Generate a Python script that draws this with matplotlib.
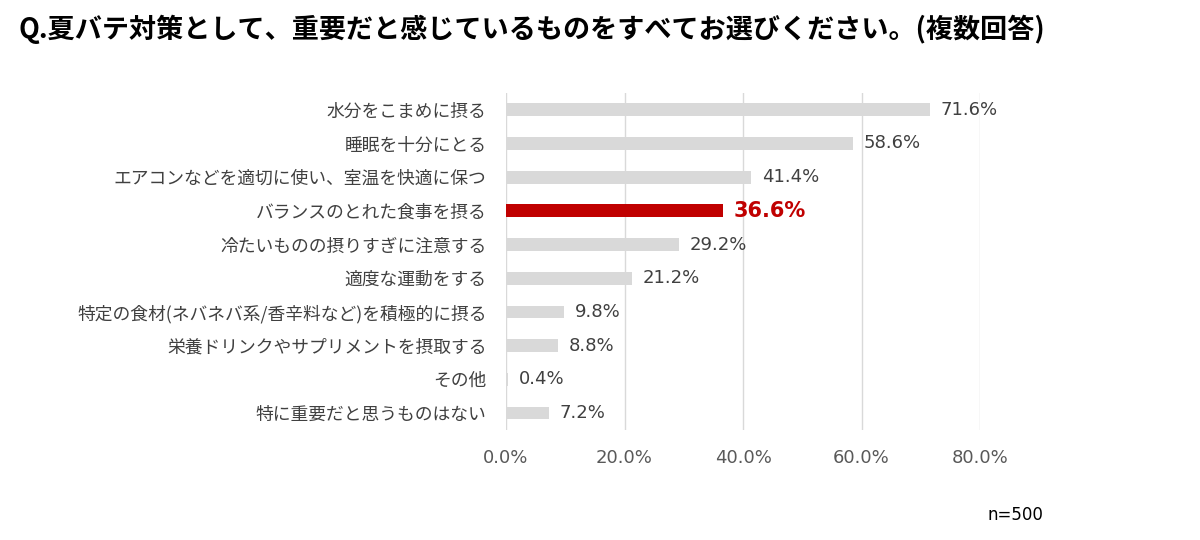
import matplotlib
matplotlib.use("Agg")
import matplotlib.pyplot as plt

plt.rcParams["font.family"] = "Noto Sans CJK JP"
NUM_FONT = "DejaVu Sans"

TITLE = "Q.夏バテ対策として、重要だと感じているものをすべてお選びください。(複数回答)"
categories = [
    "水分をこまめに摂る",
    "睡眠を十分にとる",
    "エアコンなどを適切に使い、室温を快適に保つ",
    "バランスのとれた食事を摂る",
    "冷たいものの摂りすぎに注意する",
    "適度な運動をする",
    "特定の食材(ネバネバ系/香辛料など)を積極的に摂る",
    "栄養ドリンクやサプリメントを摂取する",
    "その他",
    "特に重要だと思うものはない",
]
values = [71.6, 58.6, 41.4, 36.6, 29.2, 21.2, 9.8, 8.8, 0.4, 7.2]
highlight = 3
xticks = [0, 20, 40, 60, 80]

fig = plt.figure(figsize=(12, 5.4), dpi=100)
ax = fig.add_axes([0.4217, 0.204, 0.395, 0.624])

ypos = list(range(len(categories)))
colors = ["#c00000" if i == highlight else "#d9d9d9" for i in ypos]
ax.barh(ypos, values, height=0.38, color=colors, zorder=2)
for i, v in enumerate(values):
    if i == highlight:
        ax.text(v + 1.8, i, f"{v:.1f}%", va="center", ha="left", family=NUM_FONT,
                fontsize=15, color="#c00000", fontweight="bold", clip_on=False)
    else:
        ax.text(v + 1.8, i, f"{v:.1f}%", va="center", ha="left", family=NUM_FONT,
                fontsize=13, color="#404040", clip_on=False)

ax.set_xlim(0, 80)
ax.set_ylim(len(categories) - 0.5, -0.5)
ax.set_yticks(ypos)
ax.set_yticklabels(categories, fontsize=12.8, color="#404040")
ax.set_xticks(xticks)
ax.set_xticklabels([f"{t:.1f}%" for t in xticks], fontsize=13, color="#595959",
                   family=NUM_FONT)
ax.tick_params(length=0)
ax.tick_params(axis="x", pad=14)
ax.tick_params(axis="y", pad=14)
ax.grid(axis="x", color="#d9d9d9", linewidth=1, zorder=0)
for s in ax.spines.values():
    s.set_visible(False)

fig.text(0.015, 0.945, TITLE, fontsize=19.5, fontweight="bold", va="center", ha="left")
fig.text(0.823, 0.047, "n=500", fontsize=12, va="center", ha="left", family=NUM_FONT)

fig.savefig("out.png", dpi=100, facecolor="white")
